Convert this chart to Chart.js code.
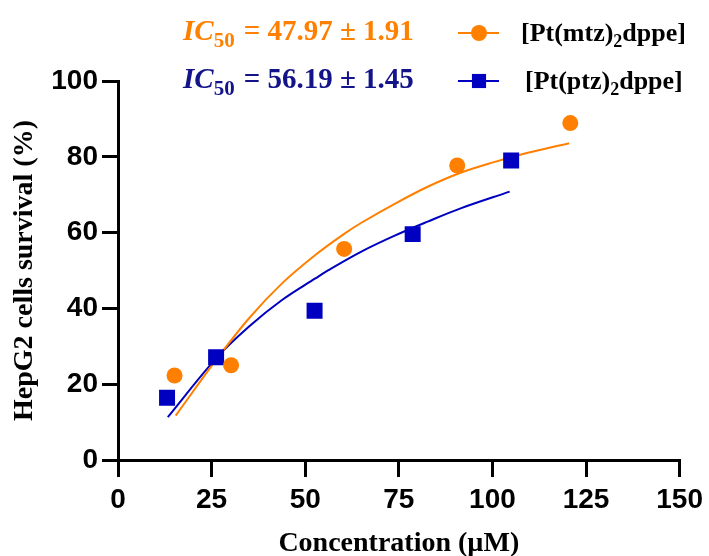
<!DOCTYPE html>
<html>
<head>
<meta charset="utf-8">
<script src="https://cdn.jsdelivr.net/npm/chart.js@4.4.0/dist/chart.umd.min.js"></script>
<style>
  html, body { margin: 0; padding: 0; background: #fff; }
  #wrap { width: 709px; height: 556px; }
</style>
</head>
<body>
<div id="wrap"><canvas id="chart" width="709" height="556"></canvas></div>
<script>
const mtzConc = [15.1, 30.2, 60.4, 90.6, 120.8];
const mtzSurvival = [22.3, 25.0, 55.7, 77.7, 88.9];
const ptzConc = [13.1, 26.2, 52.5, 78.7, 105.0];
const ptzSurvival = [16.4, 27.1, 39.4, 59.6, 79.0];

// Fitted curves
const mtzFitConc = [15.4, 26.2, 35.0, 43.8, 52.7, 60.6, 65.0, 73.9, 82.7, 91.5, 100.4, 109.2, 120.5];
const mtzFitSurvival = [11.7, 26.4, 37.4, 46.6, 54.1, 59.8, 62.6, 67.6, 72.1, 75.8, 78.6, 81.0, 83.6];
const ptzFitConc = [13.3, 26.2, 35.0, 43.8, 52.7, 56.2, 65.0, 73.9, 82.7, 91.5, 104.6];
const ptzFitSurvival = [11.3, 26.8, 35.2, 42.2, 47.9, 50.1, 55.0, 59.2, 62.9, 66.4, 70.8];

// Labels
const seriesNames = ['[Pt(mtz)', '[Pt(ptz)'];
const ic50Text = ['= 47.97 \u00b1 1.91', '= 56.19 \u00b1 1.45'];
const xTitle = 'Concentration (\u00b5M)';
const yTitle = 'HepG2 cells survival (%)';

const orange = '#ff8000';
const blue = '#0000c0';
const navy = '#13138a';

const toXY = (xs, ys) => xs.map((x, i) => ({ x: x, y: ys[i] }));

// Draws the IC50 lines and the legend at the top
const topLabels = {
  id: 'topLabels',
  afterDraw(chart) {
    const ctx = chart.ctx;
    const rows = [
      { y: 40, my: 33, ny: 41, color: orange, textColor: orange, style: 'circle', radius: 8, text: ic50Text[0], name: seriesNames[0], nameX: 521 },
      { y: 88, my: 81, ny: 89, color: blue, textColor: navy, style: 'rect', radius: 10, text: ic50Text[1], name: seriesNames[1], nameX: 525 }
    ];
    ctx.save();
    ctx.textBaseline = 'alphabetic';
    ctx.textAlign = 'left';
    rows.forEach(r => {
      // IC50 = ...
      let x = 183;
      ctx.fillStyle = r.textColor;
      ctx.font = 'italic bold 29px "Liberation Serif"';
      ctx.fillText('IC', x, r.y);
      x += ctx.measureText('IC').width;
      ctx.font = 'bold 21px "Liberation Serif"';
      ctx.fillText('50', x, r.y + 7);
      x += ctx.measureText('50').width + 9;
      ctx.font = 'bold 29px "Liberation Serif"';
      ctx.fillText(r.text, x, r.y);

      // legend sample: line + marker
      ctx.strokeStyle = r.color;
      ctx.lineWidth = 2;
      ctx.beginPath();
      ctx.moveTo(458, r.my);
      ctx.lineTo(499, r.my);
      ctx.stroke();
      ctx.fillStyle = r.color;
      Chart.helpers.drawPoint(ctx, { pointStyle: r.style, radius: r.radius, borderWidth: 0 }, 479, r.my);

      // legend name with subscript 2
      ctx.fillStyle = '#000';
      x = r.nameX;
      ctx.font = 'bold 26px "Liberation Serif"';
      ctx.fillText(r.name, x, r.ny);
      x += ctx.measureText(r.name).width;
      ctx.font = 'bold 18px "Liberation Serif"';
      ctx.fillText('2', x, r.ny + 6);
      x += ctx.measureText('2').width;
      ctx.font = 'bold 26px "Liberation Serif"';
      ctx.fillText('dppe]', x, r.ny);
    });
    ctx.restore();
  }
};

const tickFont = { family: '"Liberation Sans", Arial', size: 28, weight: 'bold' };
const titleFont = { family: '"Liberation Serif", "Times New Roman"', size: 28, weight: 'bold' };

new Chart(document.getElementById('chart'), {
  type: 'scatter',
  data: {
    datasets: [
      {
        label: 'mtz',
        data: toXY(mtzConc, mtzSurvival),
        pointStyle: 'circle',
        pointRadius: 8,
        pointHoverRadius: 8,
        backgroundColor: orange,
        borderWidth: 0,
        showLine: false
      },
      {
        label: 'ptz',
        data: toXY(ptzConc, ptzSurvival),
        pointStyle: 'rect',
        pointRadius: 11.3,
        pointHoverRadius: 11.3,
        backgroundColor: blue,
        borderWidth: 0,
        showLine: false
      },
      {
        label: 'mtz fit',
        data: toXY(mtzFitConc, mtzFitSurvival),
        showLine: true,
        pointRadius: 0,
        borderColor: orange,
        borderWidth: 2,
        tension: 0.35,
        fill: false
      },
      {
        label: 'ptz fit',
        data: toXY(ptzFitConc, ptzFitSurvival),
        showLine: true,
        pointRadius: 0,
        borderColor: blue,
        borderWidth: 2,
        tension: 0.35,
        fill: false
      }
    ]
  },
  options: {
    responsive: false,
    animation: false,
    layout: { padding: { left: 0, top: 81, right: 25, bottom: 0 } },
    plugins: {
      legend: { display: false },
      tooltip: { enabled: false }
    },
    scales: {
      x: {
        type: 'linear',
        min: 0,
        max: 150,
        ticks: { stepSize: 25, color: '#000', font: tickFont, padding: 6, maxRotation: 0 },
        grid: { drawOnChartArea: false, drawTicks: true, tickLength: 17, tickWidth: 3, tickColor: '#000', lineWidth: 3, color: '#000' },
        border: { display: true, color: '#000', width: 3 },
        title: { display: true, text: xTitle, color: '#000', font: Object.assign({ lineHeight: 0.85 }, titleFont), padding: 0 },
        afterFit(scale) { scale.height = 96; }
      },
      y: {
        type: 'linear',
        min: 0,
        max: 100,
        ticks: { stepSize: 20, color: '#000', font: tickFont, padding: 4 },
        grid: { drawOnChartArea: false, drawTicks: true, tickLength: 16, tickWidth: 3, tickColor: '#000', lineWidth: 3, color: '#000' },
        border: { display: true, color: '#000', width: 3 },
        title: { display: true, text: yTitle, color: '#000', font: titleFont, padding: { top: 8, bottom: 0 } },
        afterFit(scale) { scale.width = 118; }
      }
    }
  },
  plugins: [topLabels]
});
</script>
</body>
</html>
